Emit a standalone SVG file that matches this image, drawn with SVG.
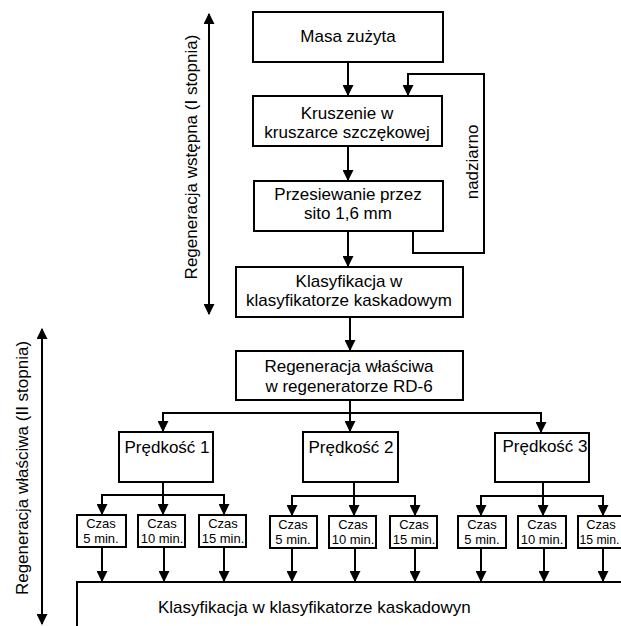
<svg xmlns="http://www.w3.org/2000/svg" width="621" height="626" viewBox="0 0 621 626">
<style>
.box{fill:#fff;stroke:#000;stroke-width:2}
.ln{fill:none;stroke:#000;stroke-width:2}
.t{font-family:"Liberation Sans",Arial,sans-serif;font-size:17px;fill:#000;text-anchor:middle}
.s{font-family:"Liberation Sans",Arial,sans-serif;font-size:13px;fill:#000;text-anchor:middle}
</style>
<defs>
<marker id="ah" markerUnits="userSpaceOnUse" markerWidth="11" markerHeight="11" viewBox="0 0 10 10" refX="9" refY="5" orient="auto">
<path d="M0,0 L10,5 L0,10 z" fill="#000"/>
</marker>
<marker id="as" markerUnits="userSpaceOnUse" markerWidth="11" markerHeight="11" viewBox="0 0 10 10" refX="1" refY="5" orient="auto">
<path d="M10,0 L0,5 L10,10 z" fill="#000"/>
</marker>
</defs>
<rect width="621" height="626" fill="#fff"/>
<g id="connectors">
<line class="ln" x1="348" y1="62" x2="348" y2="95" marker-end="url(#ah)"/>
<polyline class="ln" points="413,231 413,253 484,253 484,74 408,74 408,95" marker-end="url(#ah)"/>
<line class="ln" x1="348" y1="146" x2="348" y2="180" marker-end="url(#ah)"/>
<line class="ln" x1="348" y1="231" x2="348" y2="266" marker-end="url(#ah)"/>
<line class="ln" x1="350" y1="317" x2="350" y2="350" marker-end="url(#ah)"/>
<line class="ln" x1="350" y1="400" x2="350" y2="431" marker-end="url(#ah)"/>
<polyline class="ln" points="163,431 163,413 541,413 541,432" marker-end="url(#ah)"/>
<line class="ln" x1="163" y1="413" x2="163" y2="431" marker-end="url(#ah)"/>
<line class="ln" x1="163" y1="482" x2="163" y2="495"/>
<polyline class="ln" points="102,514 102,495 224,495 224,514" marker-end="url(#ah)"/>
<line class="ln" x1="102" y1="495" x2="102" y2="514" marker-end="url(#ah)"/>
<line class="ln" x1="163" y1="495" x2="163" y2="514" marker-end="url(#ah)"/>
<line class="ln" x1="354" y1="482" x2="354" y2="496"/>
<polyline class="ln" points="292,515 292,496 415,496 415,515" marker-end="url(#ah)"/>
<line class="ln" x1="292" y1="496" x2="292" y2="515" marker-end="url(#ah)"/>
<line class="ln" x1="354" y1="496" x2="354" y2="515" marker-end="url(#ah)"/>
<line class="ln" x1="543" y1="482" x2="543" y2="496"/>
<polyline class="ln" points="481,515 481,496 603,496 603,515" marker-end="url(#ah)"/>
<line class="ln" x1="481" y1="496" x2="481" y2="515" marker-end="url(#ah)"/>
<line class="ln" x1="543" y1="496" x2="543" y2="515" marker-end="url(#ah)"/>
<line class="ln" x1="102" y1="547" x2="102" y2="581" marker-end="url(#ah)"/>
<line class="ln" x1="164" y1="547" x2="164" y2="581" marker-end="url(#ah)"/>
<line class="ln" x1="224" y1="547" x2="224" y2="581" marker-end="url(#ah)"/>
<line class="ln" x1="292" y1="548" x2="292" y2="581" marker-end="url(#ah)"/>
<line class="ln" x1="355" y1="548" x2="355" y2="581" marker-end="url(#ah)"/>
<line class="ln" x1="415" y1="548" x2="415" y2="581" marker-end="url(#ah)"/>
<line class="ln" x1="481" y1="548" x2="481" y2="581" marker-end="url(#ah)"/>
<line class="ln" x1="544" y1="548" x2="544" y2="581" marker-end="url(#ah)"/>
<line class="ln" x1="603" y1="548" x2="603" y2="581" marker-end="url(#ah)"/>
<line class="ln" x1="209" y1="14" x2="209" y2="314" marker-start="url(#as)" marker-end="url(#ah)"/>
<line class="ln" x1="42" y1="329" x2="42" y2="624" marker-start="url(#as)" marker-end="url(#ah)"/>
</g>
<g id="masa"><rect class="box" x="253" y="12" width="190" height="50"/><text class="t" x="348" y="42">Masa zużyta</text></g>
<g id="kruszenie"><rect class="box" x="253" y="96" width="189" height="50"/><text class="t" x="347" y="119">Kruszenie w</text><text class="t" x="347" y="138">kruszarce szczękowej</text></g>
<g id="przesiewanie"><rect class="box" x="254" y="181" width="189" height="50"/><text class="t" x="348" y="200">Przesiewanie przez</text><text class="t" x="348" y="219">sito 1,6 mm</text></g>
<g id="klasyfikacja1"><rect class="box" x="236" y="267" width="227" height="50"/><text class="t" x="349" y="287">Klasyfikacja w</text><text class="t" x="349" y="306">klasyfikatorze kaskadowym</text></g>
<g id="regeneracja"><rect class="box" x="236" y="351" width="227" height="49"/><text class="t" x="349" y="372">Regeneracja właściwa</text><text class="t" x="349" y="392">w regeneratorze RD-6</text></g>
<g id="p1"><rect class="box" x="119" y="432" width="94" height="50"/><text class="t" x="167" y="453">Prędkość 1</text></g>
<g id="p2"><rect class="box" x="303" y="432" width="95" height="50"/><text class="t" x="351" y="453">Prędkość 2</text></g>
<g id="p3"><rect class="box" x="495" y="433" width="94" height="49"/><text class="t" x="545" y="452">Prędkość 3</text></g>
<g id="c11"><rect class="box" x="77" y="515" width="49" height="32"/><text class="s" x="101" y="528">Czas</text><text class="s" x="101" y="543">5 min.</text></g>
<g id="c12"><rect class="box" x="138" y="515" width="47" height="32"/><text class="s" x="162" y="528">Czas</text><text class="s" x="162" y="543">10 min.</text></g>
<g id="c13"><rect class="box" x="199" y="515" width="47" height="32"/><text class="s" x="223" y="528">Czas</text><text class="s" x="223" y="543">15 min.</text></g>
<g id="c21"><rect class="box" x="270" y="516" width="47" height="32"/><text class="s" x="293" y="529">Czas</text><text class="s" x="293" y="544">5 min.</text></g>
<g id="c22"><rect class="box" x="329" y="516" width="47" height="32"/><text class="s" x="353" y="529">Czas</text><text class="s" x="353" y="544">10 min.</text></g>
<g id="c23"><rect class="box" x="390" y="516" width="47" height="32"/><text class="s" x="414" y="529">Czas</text><text class="s" x="414" y="544">15 min.</text></g>
<g id="c31"><rect class="box" x="458" y="516" width="48" height="32"/><text class="s" x="482" y="529">Czas</text><text class="s" x="482" y="544">5 min.</text></g>
<g id="c32"><rect class="box" x="518" y="516" width="48" height="32"/><text class="s" x="542" y="529">Czas</text><text class="s" x="542" y="544">10 min.</text></g>
<g id="c33"><rect class="box" x="578" y="516" width="48" height="32"/><text class="s" x="601" y="529">Czas</text><text class="s" x="599.5" y="544" textLength="40" lengthAdjust="spacingAndGlyphs">15 min.</text></g>
<g id="klasyfikacja2"><rect class="box" x="77" y="582" width="600" height="100"/><text class="t" x="158" y="613" style="text-anchor:start">Klasyfikacja w klasyfikatorze kaskadowyn</text></g>
<g id="labels">
<text class="t" transform="translate(197,157) rotate(-90)">Regeneracja wstępna (I stopnia)</text>
<text class="t" transform="translate(28,468) rotate(-90)">Regeneracja właściwa (II stopnia)</text>
<text class="t" transform="translate(478,162) rotate(-90)">nadziarno</text>
</g>
</svg>
